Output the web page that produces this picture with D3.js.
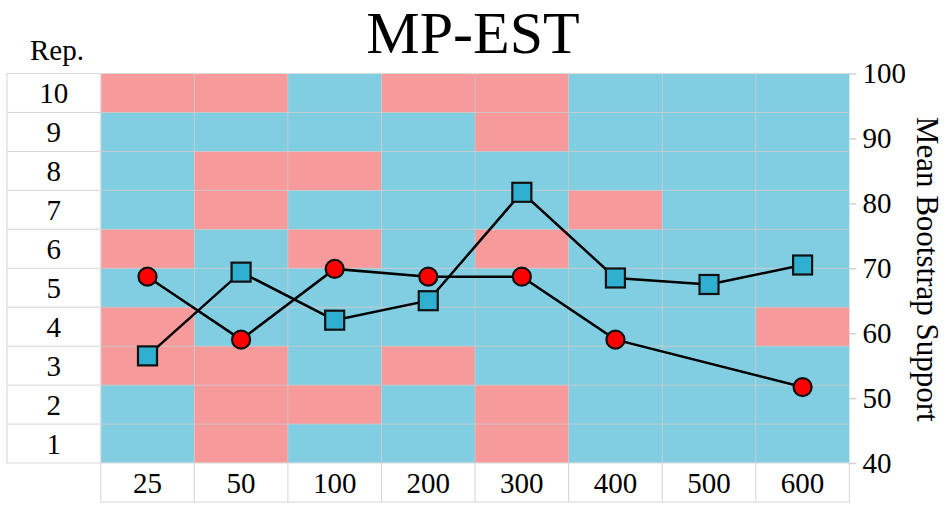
<!DOCTYPE html>
<html>
<head>
<meta charset="utf-8">
<script src="https://cdn.jsdelivr.net/npm/d3@7"></script>
<style>
  body { margin: 0; background: #fff; }
  svg { display: block; }
  svg text { font-family: "Liberation Serif", "Times New Roman", serif; }
</style>
</head>
<body>
<svg id="chart" width="946" height="506"></svg>
<script>
// sample sizes (columns) and replicates (rows)
const sizes = ['25', '50', '100', '200', '300', '400', '500', '600'];
const reps = [1, 2, 3, 4, 5, 6, 7, 8, 9, 10];

// cell state per replicate, left to right: 1 = pink, 0 = blue
const rep1 = [0, 1, 0, 0, 1, 0, 0, 0];
const rep2 = [0, 1, 1, 0, 1, 0, 0, 0];
const rep3 = [1, 1, 0, 1, 0, 0, 0, 0];
const rep4 = [1, 0, 0, 0, 0, 0, 0, 1];
const rep5 = [0, 0, 0, 0, 0, 0, 0, 0];
const rep6 = [1, 0, 1, 0, 1, 0, 0, 0];
const rep7 = [0, 1, 0, 0, 0, 1, 0, 0];
const rep8 = [0, 1, 1, 0, 0, 0, 0, 0];
const rep9 = [0, 0, 0, 0, 1, 0, 0, 0];
const rep10 = [1, 1, 0, 1, 1, 0, 0, 0];
const cellRows = [rep1, rep2, rep3, rep4, rep5, rep6, rep7, rep8, rep9, rep10];

// mean bootstrap support
const redSupport = [68.7, 59.0, 69.9, 68.7, 68.7, 59.0, null, 51.7];
const blueSupport = [56.5, 69.4, 62.0, 65.0, 81.7, 68.5, 67.5, 70.5];
const supportTicks = [40, 50, 60, 70, 80, 90, 100];

const svg = d3.select('#chart');
const gLeft = 100.7, gRight = 849.4, gTop = 73.5, gBottom = 463;
const labelLeft = 7, labelBottom = 502;

const x = d3.scaleBand().domain(sizes).range([gLeft, gRight]);
const row = d3.scaleBand().domain(reps).range([gBottom, gTop]);
const y = d3.scaleLinear().domain([40, 100]).range([gBottom, gTop]);

const pink = '#f69a9b';
const blue = '#81cee2';

// heat cells
const cells = [];
cellRows.forEach((vals, i) => vals.forEach((v, j) => cells.push({ rep: reps[i], size: sizes[j], v })));

svg.append('g')
  .selectAll('rect')
  .data(cells)
  .join('rect')
  .attr('x', d => x(d.size))
  .attr('y', d => row(d.rep))
  .attr('width', x.bandwidth())
  .attr('height', row.bandwidth())
  .attr('fill', d => (d.v ? pink : blue));

// faint grid lines
const grid = svg.append('g').attr('stroke', '#c9c9c9').attr('stroke-width', 1).attr('opacity', 0.8);
grid.selectAll('.v')
  .data(sizes.slice(1))
  .join('line')
  .attr('x1', d => x(d)).attr('x2', d => x(d))
  .attr('y1', gTop).attr('y2', labelBottom);
grid.selectAll('.h')
  .data(reps.slice(0, -1))
  .join('line')
  .attr('x1', labelLeft).attr('x2', gRight)
  .attr('y1', d => row(d)).attr('y2', d => row(d));

// label cells outline
const outline = svg.append('g').attr('fill', 'none').attr('stroke', '#dcdcdc').attr('stroke-width', 1.2);
outline.append('rect').attr('x', labelLeft).attr('y', gTop).attr('width', gLeft - labelLeft).attr('height', gBottom - gTop);
outline.append('rect').attr('x', gLeft).attr('y', gBottom).attr('width', gRight - gLeft).attr('height', labelBottom - gBottom);
outline.append('line').attr('x1', gLeft).attr('x2', gRight).attr('y1', gTop).attr('y2', gTop);

// row labels
svg.append('g')
  .selectAll('text')
  .data(reps)
  .join('text')
  .attr('x', (labelLeft + gLeft) / 2)
  .attr('y', d => row(d) + row.bandwidth() / 2)
  .attr('dy', '0.35em')
  .attr('text-anchor', 'middle')
  .attr('font-size', 29)
  .text(d => d);

svg.append('text')
  .attr('x', 57).attr('y', 60)
  .attr('text-anchor', 'middle')
  .attr('font-size', 29)
  .text('Rep.');

// column labels
svg.append('g')
  .selectAll('text')
  .data(sizes)
  .join('text')
  .attr('x', d => x(d) + x.bandwidth() / 2)
  .attr('y', (gBottom + labelBottom) / 2)
  .attr('dy', '0.35em')
  .attr('text-anchor', 'middle')
  .attr('font-size', 29)
  .text(d => d);

// right axis
const axis = svg.append('g')
  .attr('transform', `translate(${gRight},0)`)
  .call(d3.axisRight(y).tickValues(supportTicks).tickSize(7).tickPadding(6));
axis.select('.domain').remove();
axis.selectAll('line').attr('stroke', '#d0d0d0').attr('stroke-width', 1.5);
axis.selectAll('text')
  .attr('font-size', 29)
  .attr('fill', '#000');

svg.append('text')
  .attr('transform', `translate(917,${(gTop + gBottom) / 2 + 1}) rotate(90)`)
  .attr('text-anchor', 'middle')
  .attr('font-size', 31)
  .text('Mean Bootstrap Support');

// title
svg.append('text')
  .attr('x', 473).attr('y', 53)
  .attr('text-anchor', 'middle')
  .attr('font-size', 60)
  .text('MP-EST');

// lines and markers
const cx = d => x(d) + x.bandwidth() / 2;
const redPts = sizes.map((s, i) => ({ s, v: redSupport[i] })).filter(d => d.v != null);
const bluePts = sizes.map((s, i) => ({ s, v: blueSupport[i] }));
const line = d3.line().x(d => cx(d.s)).y(d => y(d.v));

svg.append('path').datum(redPts).attr('d', line)
  .attr('fill', 'none').attr('stroke', '#000').attr('stroke-width', 2.5);
svg.append('path').datum(bluePts).attr('d', line)
  .attr('fill', 'none').attr('stroke', '#000').attr('stroke-width', 2.5);

svg.append('g')
  .selectAll('circle')
  .data(redPts)
  .join('circle')
  .attr('cx', d => cx(d.s))
  .attr('cy', d => y(d.v))
  .attr('r', 9)
  .attr('fill', '#ff0000')
  .attr('stroke', '#111')
  .attr('stroke-width', 2.2);

const sq = 19;
svg.append('g')
  .selectAll('rect')
  .data(bluePts)
  .join('rect')
  .attr('x', d => cx(d.s) - sq / 2)
  .attr('y', d => y(d.v) - sq / 2)
  .attr('width', sq)
  .attr('height', sq)
  .attr('fill', '#30b0d1')
  .attr('stroke', '#111')
  .attr('stroke-width', 2.2);
</script>
</body>
</html>
